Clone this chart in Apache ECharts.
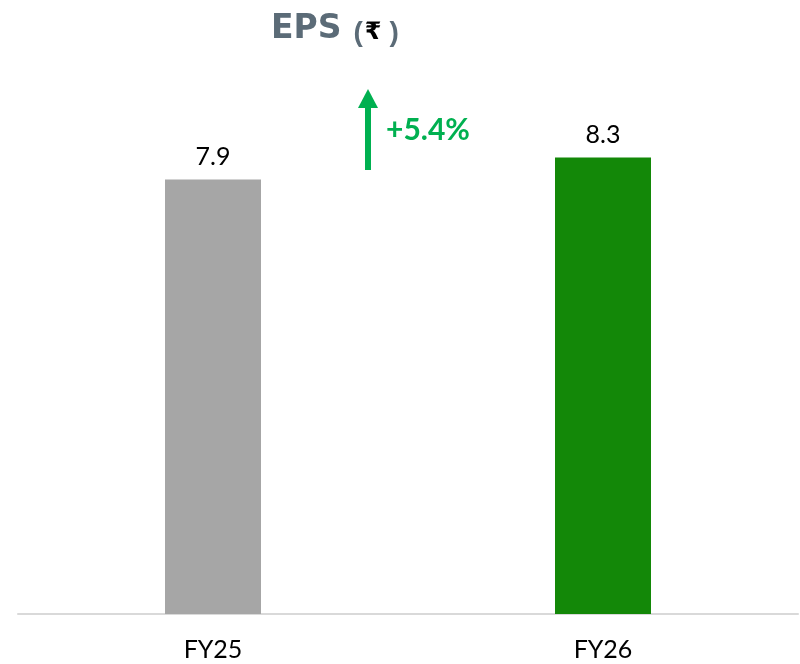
<!DOCTYPE html>
<html>
<head>
<meta charset="utf-8">
<script src="https://cdn.jsdelivr.net/npm/echarts@6/dist/echarts.min.js"></script>
<style>
  html, body { margin: 0; padding: 0; background: #fff; }
  #main { width: 800px; height: 664px; }
</style>
</head>
<body>
<div id="main"></div>
<script>
var categories = ['FY25', 'FY26'];
var epsValues = [7.9, 8.3];
var barColors = ['#a6a6a6', '#138808'];
var growthText = '+5.4%';

var chart = echarts.init(document.getElementById('main'));

var option = {
  animation: false,
  title: {
    text: '{a|EPS}{b|(}{c|₹}{d|)}',
    left: 266,
    top: 6,
    textStyle: {
      rich: {
        a: { fontFamily: 'DejaVu Sans', fontWeight: 'bold', fontSize: 33, color: '#5b6b77', padding: [0, 12, 0, 0] },
        b: { fontFamily: 'Liberation Sans', fontWeight: 'bold', fontSize: 28, color: '#5b6b77', padding: [8, 2, 0, 0] },
        c: { fontFamily: 'DejaVu Sans', fontWeight: 'bold', fontSize: 24, color: '#000', padding: [8, 8, 0, 0] },
        d: { fontFamily: 'Liberation Sans', fontWeight: 'bold', fontSize: 28, color: '#5b6b77', padding: [8, 0, 0, 0] }
      }
    }
  },
  grid: { left: 18, right: 2, top: 64, bottom: 50 },
  xAxis: {
    type: 'category',
    data: categories,
    axisLine: { lineStyle: { color: '#d9d9d9', width: 2 } },
    axisTick: { show: false },
    axisLabel: { fontFamily: 'Lato', fontSize: 25, color: '#000', margin: 23 }
  },
  yAxis: {
    type: 'value',
    min: 0,
    max: 10,
    show: false,
    splitLine: { show: false }
  },
  series: [{
    type: 'bar',
    barWidth: 96,
    data: epsValues.map(function (v, i) {
      return { value: v, itemStyle: { color: barColors[i] } };
    }),
    label: {
      show: true,
      position: 'top',
      distance: 10,
      fontFamily: 'Lato',
      fontSize: 25,
      color: '#000'
    }
  }],
  graphic: [
    {
      type: 'rect',
      shape: { x: 365, y: 104, width: 6, height: 66 },
      style: { fill: '#00b050' }
    },
    {
      type: 'polygon',
      shape: { points: [[358, 108], [368, 89], [378, 108]] },
      style: { fill: '#00b050' }
    },
    {
      type: 'text',
      left: 386,
      top: 115,
      style: {
        text: growthText,
        fontFamily: 'Lato',
        fontWeight: 'bold',
        fontSize: 30,
        fill: '#00b050'
      }
    }
  ]
};

chart.setOption(option);
</script>
</body>
</html>
